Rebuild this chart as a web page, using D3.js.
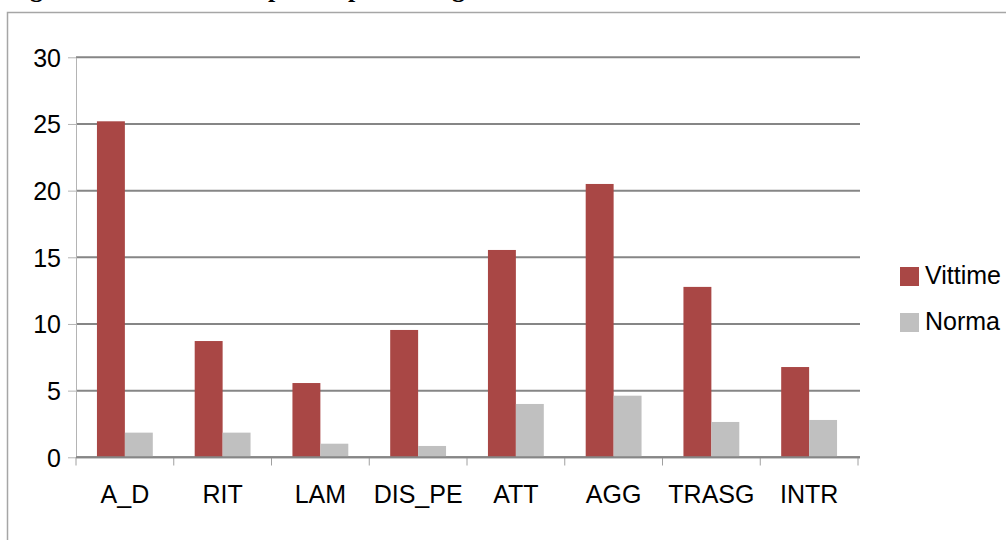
<!DOCTYPE html>
<meta charset="utf-8">
<style>
body { margin: 0; background: #fff; }
svg { display: block; }
.axis--y path { stroke: #b4b4b4; }
.axis--y line { stroke: #b4b4b4; }
.axis--x path { display: none; }
.axis--x line { stroke: #a0a0a0; }
.grid line { stroke: #868686; stroke-width: 2; }
.tick text, .legend text { font-family: "Liberation Sans", Arial, sans-serif; fill: #000; }
.title text { font-family: "Liberation Serif", serif; font-weight: bold; font-size: 26px; }
</style>
<body>
<svg width="1006" height="540"></svg>
<script src="https://d3js.org/d3.v7.min.js"></script>
<script>

var categories = ["A_D", "RIT", "LAM", "DIS_PE", "ATT", "AGG", "TRASG", "INTR"];
var series = ["Vittime", "Norma"];
var vittime = [25.2, 8.72, 5.57, 9.55, 15.55, 20.5, 12.78, 6.77];
var norma = [1.85, 1.85, 1.02, 0.85, 4.0, 4.62, 2.65, 2.8];
var yTicks = [0, 5, 10, 15, 20, 25, 30];
var colors = ["#a94745", "#c0c0c0"];

var svg = d3.select("svg");

// top of the page: cut-off title, only descenders visible
var titleBits = [{t: "g", x: 30}, {t: "p", x: 268}, {t: "p", x: 348}, {t: "g", x: 452}];
svg.append("g").attr("class", "title")
  .selectAll("text").data(titleBits).enter().append("text")
    .attr("x", function(d) { return d.x; })
    .attr("y", -3)
    .text(function(d) { return d.t; });

// chart frame
svg.append("path")
  .attr("d", "M7.5,540V12.5H1006")
  .attr("fill", "none")
  .attr("stroke", "#a6a6a6")
  .attr("stroke-width", 1.5);

var x = d3.scaleBand()
    .domain(categories)
    .range([76, 858]);

var bw = x.bandwidth() / 3.5;
var x1 = d3.scaleBand()
    .domain(series)
    .range([(x.bandwidth() - 2 * bw) / 2, (x.bandwidth() + 2 * bw) / 2]);

var y = d3.scaleLinear()
    .domain([0, 30])
    .range([457.3, 57.3]);

// gridlines
svg.append("g")
    .attr("class", "grid")
  .selectAll("line").data(yTicks).enter().append("line")
    .attr("x1", 76)
    .attr("x2", 860)
    .attr("y1", function(d) { return y(d); })
    .attr("y2", function(d) { return y(d); });

var yGroup = svg.append("g")
    .attr("class", "axis axis--y")
    .attr("transform", "translate(76,0)")
    .call(d3.axisLeft(y)
      .tickValues(yTicks)
      .tickSizeInner(8)
      .tickSizeOuter(0)
      .tickPadding(7));

yGroup.selectAll("text")
    .attr("dy", "0.36em")
    .style("font-size", "25px");

var xGroup = svg.append("g")
    .attr("class", "axis axis--x")
    .attr("transform", "translate(0,457.3)")
    .call(d3.axisBottom(x)
      .tickSizeOuter(0)
      .tickSize(0));

xGroup.selectAll("text")
    .attr("y", 46)
    .attr("dy", 0)
    .style("font-size", "25px");

// category separator ticks
svg.append("g")
    .attr("class", "axis--x")
  .selectAll("line").data(categories.concat(["_end"])).enter().append("line")
    .attr("x1", function(d, i) { return 76 + i * x.step(); })
    .attr("x2", function(d, i) { return 76 + i * x.step(); })
    .attr("y1", 457.3)
    .attr("y2", 465.5)
    .attr("stroke", "#a0a0a0");

// bars
var rows = categories.map(function(c, i) {
  return {cat: c, vals: [{s: series[0], v: vittime[i]}, {s: series[1], v: norma[i]}]};
});

svg.append("g").selectAll("g").data(rows).enter().append("g")
    .attr("transform", function(d) { return "translate(" + x(d.cat) + ",0)"; })
  .selectAll("rect").data(function(d) { return d.vals; }).enter().append("rect")
    .attr("x", function(d) { return x1(d.s); })
    .attr("width", x1.bandwidth())
    .attr("y", function(d) { return y(d.v); })
    .attr("height", function(d) { return y(0) - y(d.v); })
    .style("fill", function(d, i) { return colors[i]; });

// baseline
svg.append("line")
    .attr("x1", 76).attr("x2", 860)
    .attr("y1", y(0)).attr("y2", y(0))
    .attr("stroke", "#868686")
    .attr("stroke-width", 2);

// legend
var legend = svg.append("g").attr("class", "legend")
  .selectAll("g").data(series).enter().append("g")
    .attr("transform", function(d, i) { return "translate(900," + (267 + i * 46) + ")"; });

legend.append("rect")
    .attr("width", 19)
    .attr("height", 19)
    .style("fill", function(d, i) { return colors[i]; });

legend.append("text")
    .attr("x", 25)
    .attr("y", 17)
    .style("font-size", "25px")
    .text(function(d) { return d; });

</script>
</body>
